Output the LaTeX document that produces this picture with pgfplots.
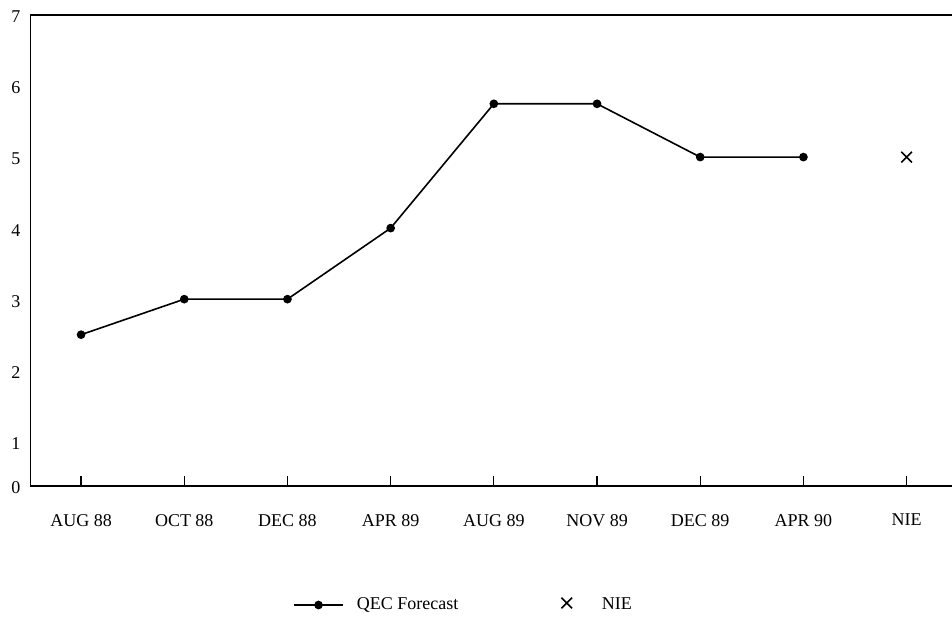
\documentclass[border=0pt]{standalone}
\usepackage{pgfplots}
\pgfplotsset{compat=1.18}
\usepackage{fontspec}
\setmainfont{Liberation Serif}
\pgfplotsset{
  qeclegend/.style={legend image code/.code={\draw[##1, mark repeat=2, mark phase=2] plot coordinates {(0pt,0pt) (24.5pt,0pt) (49pt,0pt)};}},
  nielegend/.style={legend image code/.code={\path[draw=none] (-7pt,0pt) -- (22pt,0pt); \draw[##1] plot coordinates {(0pt,2pt)};}},
}
\begin{document}
\fontsize{18}{21}\selectfont
\begin{tikzpicture}
\begin{axis}[
  at={(30.5pt,146pt)}, anchor=south west,
  scale only axis, width=921.5pt, height=471pt,
  xmin=-0.49, xmax=8.44, ymin=0.37, ymax=7,
  clip=false,
  axis line style={draw=none},
  xtick={0,1,2,3,4,5,6,7,8},
  xticklabels={AUG 88,OCT 88,DEC 88,APR 89,AUG 89,NOV 89,DEC 89,APR 90,NIE},
  ytick={0.37,1,2,3,4,5,6,7},
  yticklabels={0,1,2,3,4,5,6,7},
  xtick pos=bottom, ytick pos=left,
  tick align=inside,
  major tick length=10pt,
  xtick style={line width=1.3pt, black},
  ytick style={draw=none},
  xticklabel style={yshift=-22pt},
  yticklabel style={xshift=-4pt, yshift=-2pt},
  /pgf/number format/assume math mode=true,
  ticklabel style={font=\fontsize{18}{21}\selectfont},
  legend columns=2,
  legend style={at={(0.28486,-0.25265)}, anchor=west, draw=none, inner sep=0pt,
    font=\fontsize{18}{21}\selectfont,
    nodes={inner sep=0pt},
    /tikz/every odd column/.append style={column sep=13pt},
    /tikz/every even column/.append style={column sep=101.5pt}},
]
\draw[line width=1.6pt] (rel axis cs:1,1) -- (rel axis cs:0,1) -- (rel axis cs:0,0) -- (rel axis cs:1,0);
\addplot[black, line width=1.6pt, mark=*, mark size=3.5pt, qeclegend]
  coordinates {(0,2.5) (1,3) (2,3) (3,4) (4,5.75) (5,5.75) (6,5) (7,5)};
\addlegendentry{QEC Forecast}
\addplot[black, only marks, mark=x, mark size=7.5pt, line width=1.6pt, nielegend]
  coordinates {(8,5)};
\addlegendentry{NIE}
\end{axis}
\pgfresetboundingbox
\path[use as bounding box] (0,0) rectangle (952pt,632pt);
\end{tikzpicture}
\end{document}
